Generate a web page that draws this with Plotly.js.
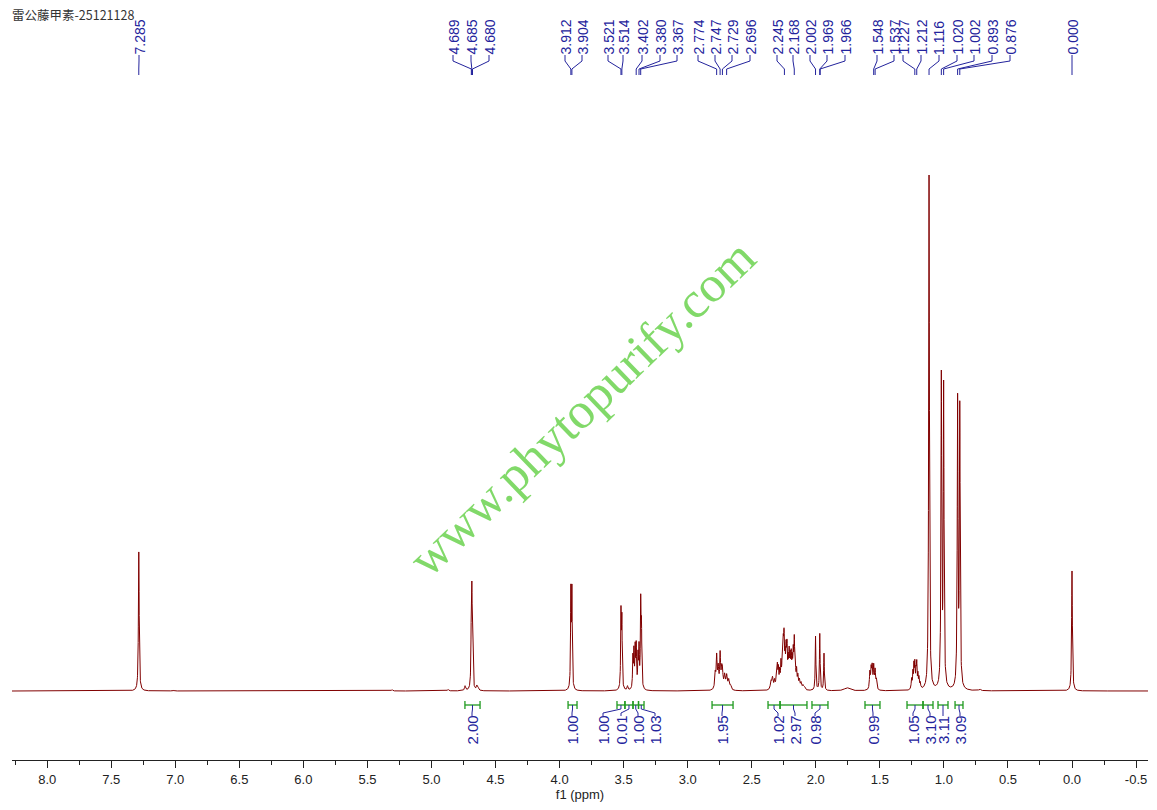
<!DOCTYPE html>
<html><head><meta charset="utf-8">
<script src="https://cdn.plot.ly/plotly-3.0.1.min.js"></script>
<style>html,body{margin:0;padding:0;background:#fff}#chart{width:1157px;height:810px}</style>
</head><body><div id="chart"></div>
<script>
// ================= DATA =================
const chartTitle = '雷公藤甲素-25121128';
const axisTitle = 'f1 (ppm)';
const watermark = 'www.phytopurify.com';

// resolved lines of the 1H spectrum: shift (ppm), height (rel., tallest = 100), half width (ppm)
const lineShift = [
  7.285, 7.018, 5.308, 4.871,
  4.738, 4.689, 4.685, 4.680, 4.646, 4.637,
  3.912, 3.904, 3.521, 3.514, 3.470,
  3.428, 3.420, 3.410, 3.402, 3.388, 3.380, 3.367, 3.361,
  2.785, 2.774, 2.762, 2.747, 2.735, 2.729, 2.712, 2.696, 2.680, 2.665,
  2.350, 2.338, 2.322, 2.308, 2.300, 2.292, 2.282, 2.272, 2.262, 2.254, 2.248, 2.240, 2.232, 2.225,
  2.216, 2.208, 2.200, 2.192, 2.184, 2.176, 2.168, 2.160, 2.150, 2.140, 2.128, 2.115, 2.100, 2.088,
  2.002, 1.969, 1.936, 1.756,
  1.578, 1.568, 1.560, 1.548, 1.537, 1.527,
  1.252, 1.242, 1.234, 1.227, 1.218, 1.212, 1.203, 1.195, 1.185,
  1.116, 1.020, 1.002, 0.893, 0.876, 0.720, 0.000
];
const lineHeight = [
  27.0, 0.2, 0.25, 0.3,
  0.9, 13, 14, 10, 0.8, 0.6,
  18.5, 18.5, 14.5, 13, 0.8,
  6.0, 7.0, 7.5, 8.0, 6.0, 7.5, 16, 11,
  3.0, 6.0, 4.0, 6.5, 3.0, 2.8, 2.6, 2.6, 1.8, 0.8,
  1.5, 2.2, 1.6, 3.0, 4.0, 3.5, 3.0, 4.5, 5.5, 7.0, 8.5, 5.0, 6.5, 7.0,
  4.5, 6.0, 5.0, 5.5, 4.5, 6.0, 8.5, 4.5, 3.2, 2.3, 1.7, 1.2, 0.8, 0.5,
  10.5, 11.0, 7.2, 0.6,
  3.2, 3.6, 4.0, 4.3, 3.5, 1.8,
  2.0, 3.0, 4.3, 4.6, 3.4, 4.6, 2.6, 2.0, 1.2,
  100, 60, 58, 55.5, 54, 0.3, 23.3
];
const lineHwhm = [
  0.0035, 0.006, 0.006, 0.006,
  0.005, 0.003, 0.003, 0.003, 0.005, 0.005,
  0.003, 0.003, 0.003, 0.003, 0.004,
  0.003, 0.003, 0.003, 0.003, 0.003, 0.003, 0.003, 0.003,
  0.005, 0.004, 0.005, 0.004, 0.005, 0.005, 0.006, 0.006, 0.006, 0.006,
  0.006, 0.006, 0.005, 0.0035, 0.0035, 0.0035, 0.0035, 0.0035, 0.0035, 0.0035, 0.0035, 0.0035, 0.0035, 0.0035,
  0.0035, 0.0035, 0.0035, 0.0035, 0.0035, 0.0035, 0.0035, 0.0035, 0.0035, 0.004, 0.005, 0.005, 0.006, 0.006,
  0.003, 0.003, 0.003, 0.025,
  0.004, 0.004, 0.004, 0.004, 0.004, 0.004,
  0.004, 0.003, 0.003, 0.003, 0.003, 0.003, 0.003, 0.003, 0.004,
  0.0035, 0.0035, 0.0035, 0.0035, 0.0035, 0.008, 0.0035
];

// peak picking labels (ppm)
const peakLabelPpm = [7.285, 4.689, 4.685, 4.680, 3.912, 3.904, 3.521, 3.514, 3.402, 3.380, 3.367,
  2.774, 2.747, 2.729, 2.696, 2.245, 2.168, 2.002, 1.969, 1.966, 1.548, 1.537, 1.227, 1.212,
  1.116, 1.020, 1.002, 0.893, 0.876, 0.000];

// integrals: region start / end (ppm) and value
const integStart = [4.739, 3.934, 3.552, 3.490, 3.427, 3.384, 2.810, 2.373, 2.279, 2.030, 1.616, 1.288, 1.163, 1.046, 0.913];
const integEnd   = [4.621, 3.864, 3.490, 3.427, 3.384, 3.341, 2.646, 2.279, 2.069, 1.905, 1.499, 1.163, 1.085, 0.968, 0.851];
const integValue = ['2.00', '1.00', '1.00', '0.01', '1.00', '1.03', '1.95', '1.02', '2.97', '0.98', '0.99', '1.05', '3.10', '3.11', '3.09'];

// axis ticks
const xTickVals = [8.0, 7.5, 7.0, 6.5, 6.0, 5.5, 5.0, 4.5, 4.0, 3.5, 3.0, 2.5, 2.0, 1.5, 1.0, 0.5, 0.0, -0.5];
const xTickText = ['8.0', '7.5', '7.0', '6.5', '6.0', '5.5', '5.0', '4.5', '4.0', '3.5', '3.0', '2.5', '2.0', '1.5', '1.0', '0.5', '0.0', '-0.5'];

// ================= LAYOUT (pixel positions of label stacks) =================
const peakLabelPx  = [139, 453, 471, 489, 565, 582, 608, 623, 642, 660, 677,
  698, 715, 732, 750, 777, 793, 810, 827, 845, 877, 894, 903, 921,
  939, 957, 974, 992, 1010, 1072];
const integLabelPx = [472, 572, 603, 621, 638, 655, 722, 778, 795, 815, 873, 913, 930, 943, 960];

const W = 1157, H = 810;
const ML = 12, MR = 9, MT = 10, MB = 50;
const PX_ZERO = 1072, PX_PER_PPM = 128.1, PY_BASE = 691, PY_PER_UNIT = 5.15;
const X = px => (PX_ZERO - px) / PX_PER_PPM;
const Y = py => (PY_BASE - py) / PY_PER_UNIT;

const labelBlue = '#23239c';
const integGreen = '#1f9a1f';
const specColor = '#800000';

// spectrum as sum of Lorentzian lines from the line list
const xr0 = X(ML), xr1 = X(W - MR);
const grid = [];
for (let i = 0; ; i++) { const v = xr0 - i * 0.001; if (v < xr1) break; grid.push(v); }
lineShift.forEach(s => grid.push(s));
grid.sort((a, b) => b - a);
const specX = [], specY = [];
grid.forEach(v => {
  let s = 0;
  for (let k = 0; k < lineShift.length; k++) {
    const d = (v - lineShift[k]) / lineHwhm[k];
    s += lineHeight[k] / (1 + d * d);
  }
  specX.push(v); specY.push(s);
});

const shapes = [], annotations = [];
const fam = 'Liberation Sans, Arial, sans-serif';

peakLabelPpm.forEach((p, i) => {
  const lx = X(peakLabelPx[i]);
  annotations.push({x: lx, y: Y(55), xref: 'x', yref: 'y', text: p.toFixed(3), textangle: -90,
    showarrow: false, xanchor: 'center', yanchor: 'bottom', font: {family: fam, size: 14, color: labelBlue}, borderpad: 0, borderwidth: 0});
  shapes.push({type: 'path', xref: 'x', yref: 'y', layer: 'above',
    path: `M${lx},${Y(55)} L${lx},${Y(61)} L${p},${Y(69)} L${p},${Y(75)}`,
    line: {color: labelBlue, width: 1}});
});

integValue.forEach((v, i) => {
  const a = integStart[i], b = integEnd[i], mid = (a + b) / 2, lx = X(integLabelPx[i]);
  shapes.push({type: 'line', xref: 'x', yref: 'y', x0: a, x1: b, y0: Y(705), y1: Y(705), line: {color: integGreen, width: 1.3}});
  shapes.push({type: 'line', xref: 'x', yref: 'y', x0: a, x1: a, y0: Y(701), y1: Y(709), line: {color: integGreen, width: 1.3}});
  shapes.push({type: 'line', xref: 'x', yref: 'y', x0: b, x1: b, y0: Y(701), y1: Y(709), line: {color: integGreen, width: 1.3}});
  shapes.push({type: 'path', xref: 'x', yref: 'y',
    path: `M${mid},${Y(705)} L${mid},${Y(709)} L${lx},${Y(713)} L${lx},${Y(716)}`,
    line: {color: labelBlue, width: 1}});
  annotations.push({x: lx, y: Y(716), xref: 'x', yref: 'y', text: v, textangle: -90,
    showarrow: false, xanchor: 'center', yanchor: 'top', font: {family: fam, size: 15, color: labelBlue}, borderpad: 0, borderwidth: 0});
});

annotations.push({x: X(582), y: Y(408), xref: 'x', yref: 'y', text: watermark, textangle: -44, showarrow: false,
  xanchor: 'center', yanchor: 'middle', font: {family: 'Liberation Serif, Times New Roman, serif', size: 51, color: 'rgba(112,212,84,0.88)'}});

const trace = {type: 'scatter', mode: 'lines', x: specX, y: specY, line: {color: specColor, width: 1}, hoverinfo: 'skip'};

const layout = {
  width: W, height: H, margin: {l: ML, r: MR, t: MT, b: MB}, showlegend: false,
  paper_bgcolor: '#fff', plot_bgcolor: '#fff',
  title: {text: chartTitle, xref: 'container', yref: 'container', x: 12 / W, xanchor: 'left', y: 1 - 16 / H, yanchor: 'middle',
    font: {family: 'Noto Sans CJK SC, sans-serif', size: 12.5, color: '#333'}},
  xaxis: {range: [xr0, xr1], tickmode: 'array', tickvals: xTickVals, ticktext: xTickText,
    ticks: 'outside', ticklen: 7, tickwidth: 1, tickcolor: '#222', showline: true, linecolor: '#222', linewidth: 1,
    showgrid: false, zeroline: false, automargin: false, fixedrange: true,
    tickfont: {family: fam, size: 13, color: '#222'},
    title: {text: axisTitle, standoff: 2, font: {family: fam, size: 13, color: '#222'}},
    minor: {tickmode: 'linear', tick0: 0, dtick: 0.25, ticks: 'outside', ticklen: 4, tickwidth: 1, tickcolor: '#222', showgrid: false}},
  yaxis: {range: [Y(H - MB), Y(MT)], visible: false, fixedrange: true},
  shapes: shapes, annotations: annotations
};

Plotly.newPlot('chart', [trace], layout, {displayModeBar: false, staticPlot: true});
</script>
</body></html>
